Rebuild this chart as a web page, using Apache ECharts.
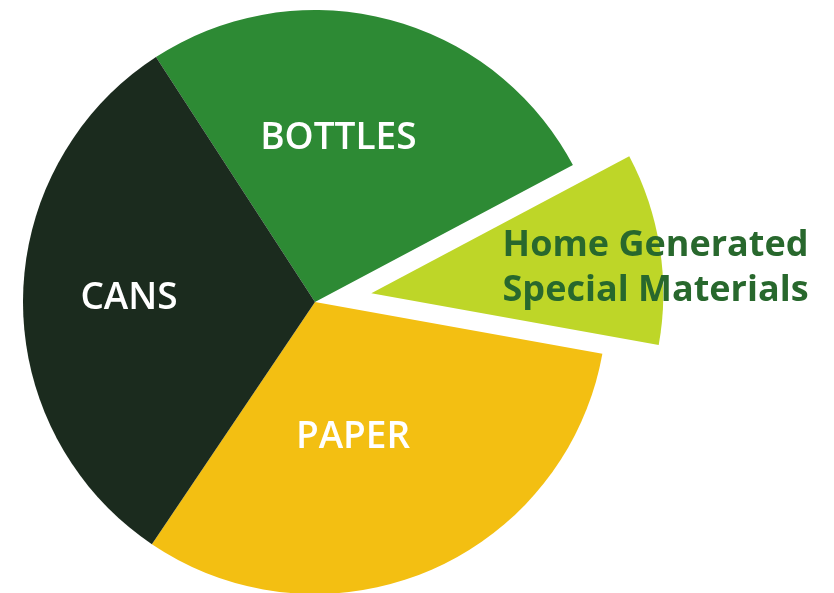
<!DOCTYPE html>
<html>
<head>
<meta charset="utf-8">
<script src="https://cdn.jsdelivr.net/npm/echarts@6/dist/echarts.min.js"></script>
<style>
  html, body { margin: 0; padding: 0; background: #ffffff; }
  #chart { width: 834px; height: 593px; }
</style>
</head>
<body>
<div id="chart"></div>
<script>
// Data (shares in percent)
const categories = ['BOTTLES', 'Home Generated\nSpecial Materials', 'PAPER', 'CANS'];
const values = [26.4, 10.6, 31.6, 31.4];
const sliceColors = ['#2d8a34', '#bed628', '#f3bf12', '#1b2b1e'];
const explodedIndex = 1;

// Label nudges relative to the default inside position (style only)
const labelNudge = [[-14, -19], [137, -2], [-20, -2], [-37, -2]];

const chart = echarts.init(document.getElementById('chart'), null, { renderer: 'canvas' });

const data = categories.map((name, i) => {
  const item = {
    name: name,
    value: values[i],
    itemStyle: { color: sliceColors[i] },
    label: {
      color: '#ffffff',
      fontFamily: 'Open Sans',
      fontWeight: 600,
      fontSize: 37
    }
  };
  if (i === explodedIndex) {
    item.selected = true;
    item.label = {
      color: '#28682d',
      fontFamily: 'Open Sans',
      fontWeight: 'bold',
      fontSize: 36,
      lineHeight: 45,
      align: 'left'
    };
  }
  return item;
});

chart.setOption({
  animation: false,
  backgroundColor: '#ffffff',
  series: [{
    type: 'pie',
    center: [315, 302],
    radius: [0, 292],
    startAngle: 123,
    clockwise: true,
    selectedMode: 'single',
    selectedOffset: 57,
    avoidLabelOverlap: false,
    itemStyle: { borderWidth: 0 },
    emphasis: { disabled: true, scale: false },
    label: { show: true, position: 'inside' },
    labelLine: { show: false },
    labelLayout: function (params) {
      const n = labelNudge[params.dataIndex];
      return { dx: n[0], dy: n[1] };
    },
    data: data
  }]
});
</script>
</body>
</html>
